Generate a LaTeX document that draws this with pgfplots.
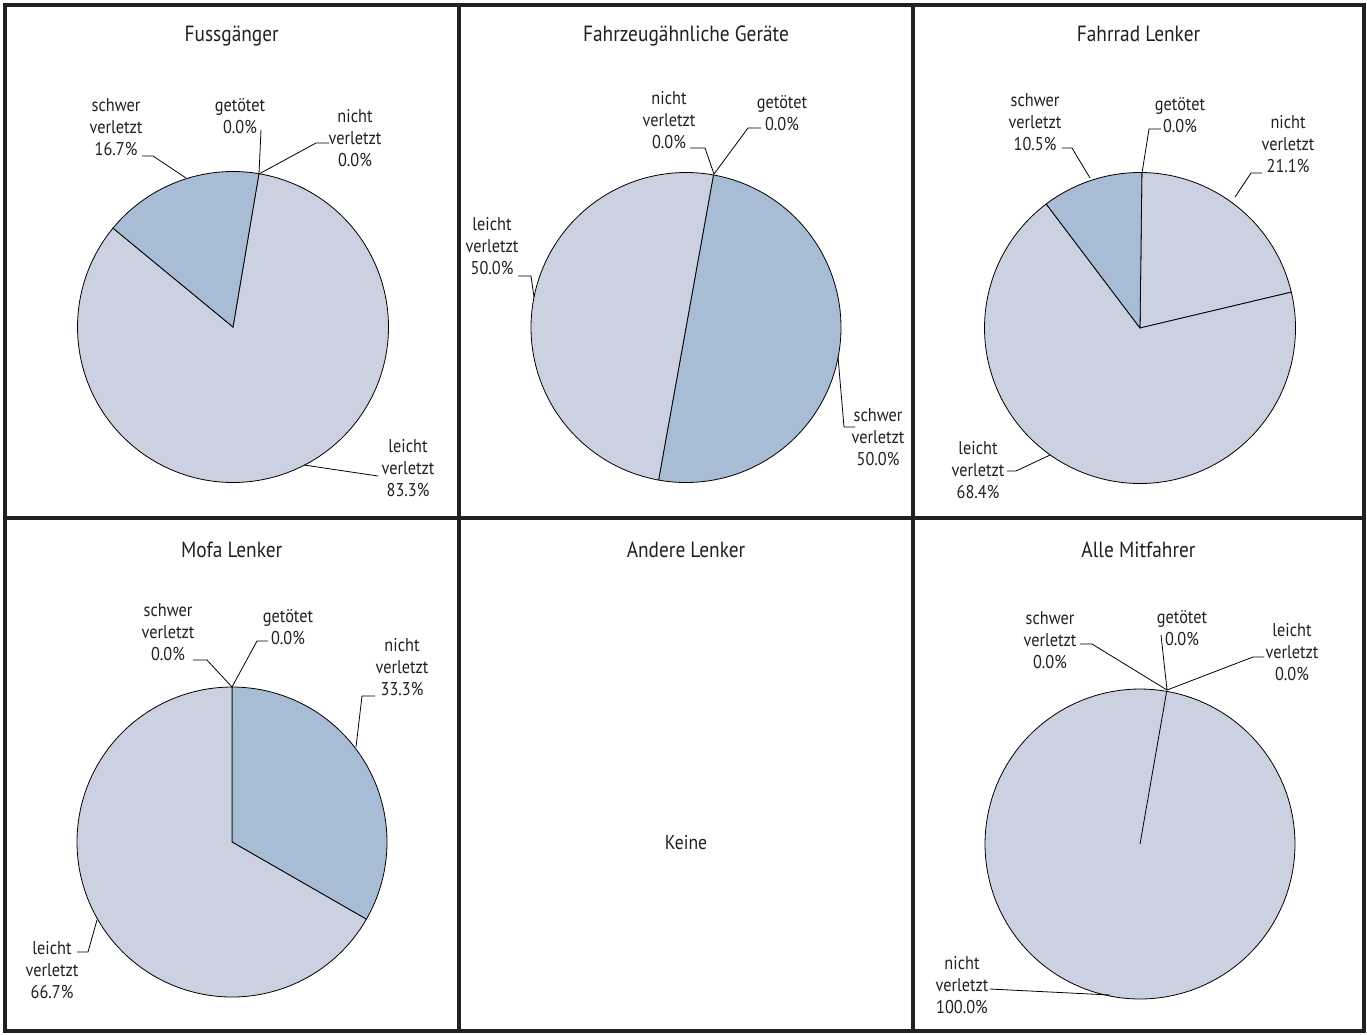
\documentclass[border=0pt]{standalone}
\usepackage{pgfplots}
\pgfplotsset{compat=1.18}
\usepackage{fontspec}
\setmainfont[FakeStretch=0.88]{PT Sans}
\definecolor{sliceblue}{HTML}{A8BCD6}
\definecolor{slicegrey}{HTML}{CBD1E0}
\definecolor{frame}{HTML}{231F20}
\definecolor{txt}{HTML}{231F20}
% cx, cy, r, start angle (deg, clockwise from top), percent, colour
\newcommand{\slice}[6]{%
  \pgfmathsetmacro\sA{#4}\pgfmathsetmacro\sB{#4+3.6*#5}%
  \edef\temp{\noexpand\addplot[fill=#6, draw=black, line width=0.8pt, mark=none, domain=\sA:\sB, samples=150]
    ({#1+#3*sin(x)},{#2-#3*cos(x)}) -- (axis cs:#1,#2) -- cycle;}%
  \temp}
\newcommand{\lab}[3]{\node[align=center, inner sep=0pt, text=txt, font=\fontsize{18.5}{22}\selectfont] at (#1,#2) {#3};}
\newcommand{\ttl}[3]{\node[anchor=base, inner sep=0pt, text=txt, font=\fontsize{22}{26}\selectfont] at (#1,#2) {#3};}
\begin{document}
\begin{tikzpicture}
\begin{axis}[width=1367pt, height=1034pt, scale only axis, xmin=0, xmax=1367, ymin=0, ymax=1034,
  y dir=reverse, hide axis, clip=false]
\path (0,0) rectangle (1367,1034);
% ---- Panel 1: Fussgaenger
\slice{233}{327}{155.5}{9.6}{83.3}{slicegrey}
\slice{233}{327}{155.5}{309.48}{16.7}{sliceblue}
% ---- Panel 2: Fahrzeugaehnliche Geraete
\slice{686}{327.5}{155}{10.2}{50.0}{sliceblue}
\slice{686}{327.5}{155}{190.2}{50.0}{slicegrey}
% ---- Panel 3: Fahrrad Lenker
\slice{1140}{328}{155.5}{0.7}{21.1}{slicegrey}
\slice{1140}{328}{155.5}{76.66}{68.4}{slicegrey}
\slice{1140}{328}{155.5}{322.9}{10.5}{sliceblue}
% ---- Panel 4: Mofa Lenker
\slice{232}{842}{155}{0}{33.3}{sliceblue}
\slice{232}{842}{155}{119.88}{66.7}{slicegrey}
% ---- Panel 6: Alle Mitfahrer
\slice{1140}{844}{155}{9.9}{100.0}{slicegrey}
% ---- leader lines
\begin{scope}[line width=0.8pt, black]
\draw (142,156) -- (153,156) -- (186,178);
\draw (259,174) -- (261,130);
\draw (259,174) -- (316,143) -- (329,143);
\draw (304,465) -- (378,476);
\draw (690,148) -- (705,148) -- (714,174);
\draw (714,174) -- (748,128) -- (761,128);
\draw (518,276) -- (531,276) -- (534,297);
\draw (838,357) -- (844,427) -- (855,427);
\draw (1062,148) -- (1072,148) -- (1090,178);
\draw (1142,173) -- (1149,129) -- (1161,129);
\draw (1235,197) -- (1251,173) -- (1262,173);
\draw (1007,471) -- (1016,471) -- (1050,455);
\draw (193,660) -- (207,660) -- (232,687);
\draw (232,687) -- (257,641) -- (268,641);
\draw (375,696) -- (362,696) -- (356,747);
\draw (97,920) -- (88,952) -- (77,952);
\draw (1080,644) -- (1092,644) -- (1167,690);
\draw (1167,690) -- (1161,635);
\draw (1167,690) -- (1253,657) -- (1264,657);
\draw (990,989) -- (1110,995);
\end{scope}
% ---- labels
\lab{116}{127}{schwer\\verletzt\\16.7\%}
\lab{240}{116}{getötet\\0.0\%}
\lab{355}{138}{nicht\\verletzt\\0.0\%}
\lab{408}{468}{leicht\\verletzt\\83.3\%}
\lab{669}{120}{nicht\\verletzt\\0.0\%}
\lab{782}{113}{getötet\\0.0\%}
\lab{492}{246}{leicht\\verletzt\\50.0\%}
\lab{878}{437}{schwer\\verletzt\\50.0\%}
\lab{1035}{122}{schwer\\verletzt\\10.5\%}
\lab{1180}{115}{getötet\\0.0\%}
\lab{1288}{144}{nicht\\verletzt\\21.1\%}
\lab{978}{470}{leicht\\verletzt\\68.4\%}
\lab{168}{632}{schwer\\verletzt\\0.0\%}
\lab{288}{627}{getötet\\0.0\%}
\lab{402}{667}{nicht\\verletzt\\33.3\%}
\lab{52}{970}{leicht\\verletzt\\66.7\%}
\lab{1050}{640}{schwer\\verletzt\\0.0\%}
\lab{1182}{628}{getötet\\0.0\%}
\lab{1292}{652}{leicht\\verletzt\\0.0\%}
\lab{962}{985}{nicht\\verletzt\\100.0\%}
\node[inner sep=0pt, text=txt, font=\fontsize{20}{24}\selectfont] at (686,843) {Keine};
% ---- titles
\ttl{231.7}{41.5}{Fussgänger}
\ttl{686}{41.5}{Fahrzeugähnliche Geräte}
\ttl{1138.5}{41.5}{Fahrrad Lenker}
\ttl{231.7}{557.5}{Mofa Lenker}
\ttl{686}{557.5}{Andere Lenker}
\ttl{1138.5}{557.5}{Alle Mitfahrer}
% ---- frame
\draw[line width=4pt, frame] (4.5,4.5) rectangle (1364,1031);
\draw[line width=4pt, frame] (459,4.5) -- (459,1031);
\draw[line width=4pt, frame] (913,4.5) -- (913,1031);
\draw[line width=4pt, frame] (4.5,518) -- (1364,518);
\end{axis}
\end{tikzpicture}
\end{document}
